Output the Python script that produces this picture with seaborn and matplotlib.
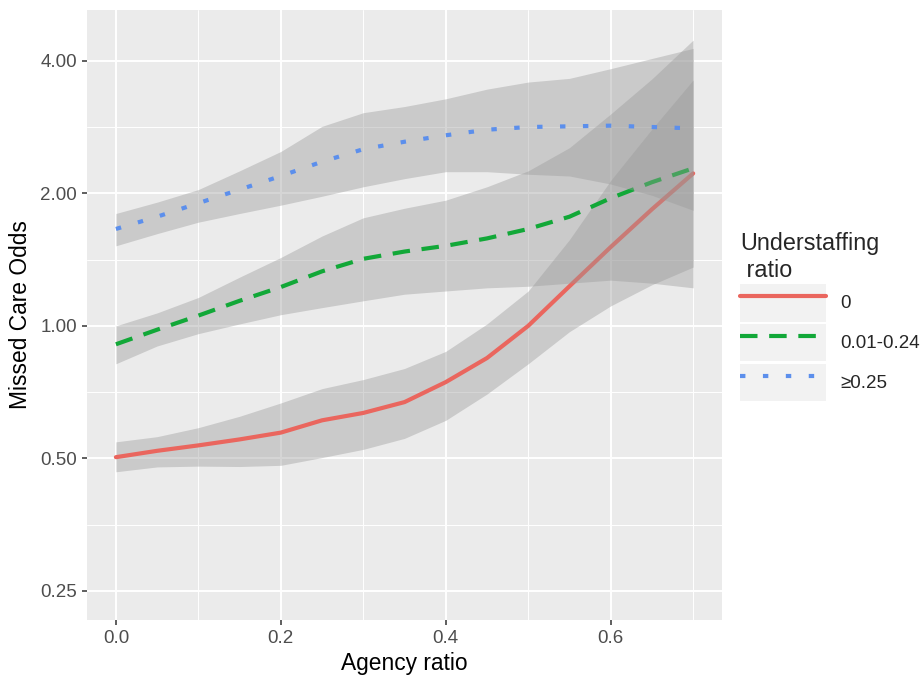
import numpy as np
import pandas as pd
import matplotlib
matplotlib.use('Agg')
import matplotlib.pyplot as plt
from matplotlib.legend_handler import HandlerLine2D
from matplotlib.patches import Rectangle
from matplotlib.ticker import NullFormatter
import seaborn as sns

agency = [0.0, 0.05, 0.1, 0.15, 0.2, 0.25, 0.3, 0.35, 0.4, 0.45, 0.5, 0.55, 0.6, 0.65, 0.7]
groups = ['0', '0.01-0.24', '≥0.25']

# odds
odds_0 = [0.503, 0.52, 0.535, 0.552, 0.572, 0.61, 0.634, 0.671, 0.745, 0.845, 1.0, 1.23, 1.51, 1.84, 2.22]
upper_0 = [0.545, 0.56, 0.587, 0.623, 0.668, 0.72, 0.755, 0.80, 0.875, 1.01, 1.2, 1.57, 2.14, 2.8, 3.62]
lower_0 = [0.466, 0.478, 0.48, 0.479, 0.482, 0.502, 0.524, 0.555, 0.61, 0.70, 0.82, 0.97, 1.11, 1.24, 1.36]

odds_1 = [0.908, 0.98, 1.055, 1.14, 1.225, 1.33, 1.42, 1.475, 1.52, 1.58, 1.66, 1.77, 1.95, 2.12, 2.28]
upper_1 = [1.0, 1.07, 1.16, 1.29, 1.43, 1.60, 1.76, 1.85, 1.93, 2.07, 2.25, 2.54, 3.03, 3.64, 4.46]
lower_1 = [0.82, 0.90, 0.96, 1.01, 1.06, 1.10, 1.14, 1.18, 1.20, 1.22, 1.23, 1.25, 1.27, 1.25, 1.22]

odds_2 = [1.66, 1.77, 1.90, 2.04, 2.19, 2.36, 2.52, 2.62, 2.71, 2.79, 2.83, 2.84, 2.85, 2.83, 2.81]
upper_2 = [1.80, 1.91, 2.04, 2.25, 2.49, 2.84, 3.05, 3.15, 3.28, 3.45, 3.58, 3.65, 3.84, 4.05, 4.27]
lower_2 = [1.52, 1.62, 1.72, 1.80, 1.88, 1.97, 2.07, 2.16, 2.24, 2.24, 2.21, 2.19, 2.10, 1.98, 1.83]

y_ticks = [0.25, 0.5, 1.0, 2.0, 4.0]
y_labels = ['0.25', '0.50', '1.00', '2.00', '4.00']
x_ticks = [0.0, 0.2, 0.4, 0.6]
x_labels = ['0.0', '0.2', '0.4', '0.6']

colors = ['#EA665E', '#12A838', '#5C8FEC']

df = pd.concat([
    pd.DataFrame({'agency': agency, 'odds': o, 'lo': lo, 'hi': hi, 'ratio': g})
    for g, o, lo, hi in zip(groups,
                            [odds_0, odds_1, odds_2],
                            [lower_0, lower_1, lower_2],
                            [upper_0, upper_1, upper_2])
], ignore_index=True)

sns.set_theme(style='darkgrid', rc={'axes.facecolor': '#EBEBEB', 'grid.color': 'white'})
plt.rcParams['font.family'] = ['Liberation Sans', 'DejaVu Sans']

fig = plt.figure(figsize=(9.22, 6.75), dpi=100)
ax = fig.add_axes([0.0944, 0.0815, 0.6887, 0.9037])

sns.lineplot(data=df, x='agency', y='odds', hue='ratio', style='ratio',
             hue_order=groups, style_order=groups, palette=colors,
             dashes={'0': '', '0.01-0.24': (4.2, 2.8), '≥0.25': (1.3, 4.2)},
             linewidth=3, legend=False, ax=ax)

lines = ax.get_lines()
for i, g in enumerate(groups):
    sub = df[df['ratio'] == g]
    ax.fill_between(sub['agency'], sub['lo'], sub['hi'], color='#999999',
                    alpha=0.4, linewidth=0, zorder=2 + 2 * i)
    lines[i].set_zorder(3 + 2 * i)
    lines[i].set_dash_capstyle('butt')

ax.set_yscale('log', base=2)
ax.set_ylim(0.2146, 5.22)
ax.set_xlim(-0.035, 0.735)
ax.set_yticks(y_ticks)
ax.set_yticklabels(y_labels)
ax.set_yticks([0.3536, 0.7071, 1.4142, 2.8284], minor=True)
ax.yaxis.set_minor_formatter(NullFormatter())
ax.set_xticks(x_ticks)
ax.set_xticklabels(x_labels)
ax.set_xticks([0.1, 0.3, 0.5, 0.7], minor=True)
ax.xaxis.set_minor_formatter(NullFormatter())
ax.grid(which='major', color='white', linewidth=1.4)
ax.grid(which='minor', color='white', linewidth=0.7)
ax.tick_params(which='major', length=3.6, width=1.1, color='#333333',
               labelcolor='#4D4D4D', labelsize=13.5, pad=3.5, bottom=True, left=True)
ax.tick_params(which='minor', length=0)
for s in ax.spines.values():
    s.set_visible(False)

ax.set_xlabel('Agency ratio', fontsize=16.4, color='black', labelpad=4)
ax.set_ylabel('Missed Care Odds', fontsize=16.4, color='black', labelpad=6)


class KeyBox(HandlerLine2D):
    def create_artists(self, legend, orig_handle, xdescent, ydescent, width, height, fontsize, trans):
        box = Rectangle((-xdescent, -ydescent), width, height, facecolor='#F2F2F2',
                        edgecolor='none', transform=trans)
        return [box] + super().create_artists(legend, orig_handle, xdescent, ydescent,
                                              width, height, fontsize, trans)


leg = fig.legend(handles=lines[:3], labels=groups, loc='center left',
                 bbox_to_anchor=(0.803, 0.531), frameon=False, fontsize=13.5,
                 title='Understaffing\n ratio', title_fontsize=16.8, alignment='left',
                 handlelength=4.55, handleheight=2.7, labelspacing=0.12,
                 handletextpad=0.8, borderpad=0, borderaxespad=0,
                 handler_map={matplotlib.lines.Line2D: KeyBox()})

fig.savefig('out.png', dpi=100)
